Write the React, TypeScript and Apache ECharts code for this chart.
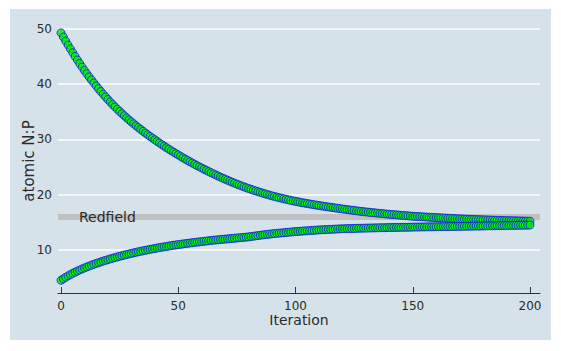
import React, { useEffect, useRef } from "react";
import * as echarts from "echarts";

// Iteration ticks / labels
const xTicks = [0, 50, 100, 150, 200];
const yTicks = [10, 20, 30, 40, 50];
const redfieldValue = 16;
const redfieldLabel = "Redfield";

// N:P starting high (iterations 0..200)
const npHigh = [
  49.3, 48.55, 47.82, 47.1, 46.4, 45.71, 45.04, 44.38, 43.74, 43.1,
  42.48, 41.9, 41.33, 40.78, 40.24, 39.71, 39.19, 38.68, 38.19, 37.71,
  37.24, 36.78, 36.34, 35.91, 35.49, 35.08, 34.68, 34.29, 33.91, 33.54,
  33.18, 32.83, 32.48, 32.14, 31.81, 31.48, 31.16, 30.85, 30.54, 30.24,
  29.95, 29.65, 29.36, 29.07, 28.79, 28.51, 28.24, 27.97, 27.71, 27.45,
  27.2, 26.94, 26.69, 26.44, 26.2, 25.96, 25.73, 25.5, 25.27, 25.05,
  24.83, 24.61, 24.4, 24.19, 23.98, 23.78, 23.58, 23.38, 23.18, 22.99,
  22.8, 22.62, 22.44, 22.26, 22.09, 21.92, 21.75, 21.59, 21.43, 21.27,
  21.12, 20.97, 20.83, 20.69, 20.55, 20.42, 20.29, 20.16, 20.03, 19.91,
  19.79, 19.68, 19.57, 19.46, 19.36, 19.26, 19.16, 19.06, 18.97, 18.88,
  18.79, 18.71, 18.63, 18.55, 18.47, 18.39, 18.32, 18.25, 18.18, 18.11,
  18.04, 17.97, 17.9, 17.84, 17.78, 17.72, 17.66, 17.6, 17.54, 17.48,
  17.42, 17.36, 17.3, 17.25, 17.19, 17.14, 17.08, 17.03, 16.98, 16.93,
  16.88, 16.84, 16.79, 16.75, 16.7, 16.66, 16.62, 16.57, 16.53, 16.49,
  16.45, 16.41, 16.38, 16.34, 16.31, 16.27, 16.24, 16.2, 16.17, 16.13,
  16.1, 16.07, 16.05, 16.02, 16.0, 15.97, 15.95, 15.92, 15.9, 15.87,
  15.85, 15.83, 15.81, 15.78, 15.76, 15.74, 15.72, 15.7, 15.67, 15.65,
  15.63, 15.61, 15.59, 15.57, 15.55, 15.54, 15.52, 15.5, 15.48, 15.47,
  15.45, 15.44, 15.42, 15.41, 15.39, 15.38, 15.36, 15.35, 15.34, 15.32,
  15.31, 15.3, 15.29, 15.28, 15.26, 15.25, 15.24, 15.23, 15.22, 15.21,
  15.2,
];

// N:P starting low (iterations 0..200)
const npLow = [
  4.5, 4.78, 5.05, 5.3, 5.54, 5.76, 5.97, 6.17, 6.37, 6.56,
  6.74, 6.91, 7.08, 7.24, 7.4, 7.55, 7.7, 7.84, 7.98, 8.11,
  8.24, 8.37, 8.49, 8.61, 8.73, 8.84, 8.95, 9.06, 9.17, 9.27,
  9.37, 9.47, 9.57, 9.66, 9.75, 9.84, 9.93, 10.02, 10.1, 10.18,
  10.26, 10.34, 10.42, 10.49, 10.56, 10.63, 10.7, 10.77, 10.84, 10.9,
  10.96, 11.02, 11.08, 11.14, 11.2, 11.25, 11.31, 11.36, 11.41, 11.46,
  11.51, 11.56, 11.61, 11.66, 11.71, 11.76, 11.8, 11.84, 11.88, 11.92,
  11.96, 12.0, 12.04, 12.08, 12.12, 12.16, 12.2, 12.24, 12.28, 12.32,
  12.36, 12.42, 12.48, 12.54, 12.6, 12.66, 12.71, 12.76, 12.81, 12.86,
  12.91, 12.96, 13.0, 13.04, 13.08, 13.12, 13.16, 13.2, 13.24, 13.28,
  13.32, 13.35, 13.38, 13.41, 13.44, 13.47, 13.5, 13.53, 13.56, 13.59,
  13.62, 13.64, 13.66, 13.68, 13.7, 13.73, 13.75, 13.77, 13.79, 13.81,
  13.83, 13.84, 13.86, 13.87, 13.88, 13.89, 13.9, 13.92, 13.93, 13.94,
  13.95, 13.96, 13.97, 13.98, 13.99, 14.0, 14.01, 14.02, 14.03, 14.04,
  14.05, 14.06, 14.07, 14.07, 14.08, 14.09, 14.1, 14.1, 14.11, 14.12,
  14.13, 14.14, 14.14, 14.15, 14.16, 14.16, 14.17, 14.18, 14.18, 14.19,
  14.2, 14.21, 14.21, 14.22, 14.23, 14.23, 14.24, 14.25, 14.25, 14.26,
  14.27, 14.28, 14.28, 14.29, 14.3, 14.3, 14.31, 14.32, 14.32, 14.33,
  14.34, 14.35, 14.36, 14.36, 14.37, 14.38, 14.39, 14.4, 14.4, 14.41,
  14.42, 14.43, 14.44, 14.44, 14.45, 14.46, 14.47, 14.48, 14.48, 14.49,
  14.5,
];

const FONT = "DejaVu Sans";
const TEXT = "#2b2b2b";

export default function App() {
  const ref = useRef<HTMLDivElement>(null);
  useEffect(() => {
    if (!ref.current) return;
    const chart = echarts.init(ref.current, undefined, { renderer: "svg" });
    const pointStyle = {
      color: "#00ee00",
      borderColor: "#1414f0",
      borderWidth: 1,
    };
    chart.setOption({
      animation: false,
      backgroundColor: "transparent",
      grid: {
        left: 48,
        right: 11,
        top: 20,
        bottom: 47,
        containLabel: false,
        outerBoundsMode: "none",
      },
      xAxis: {
        type: "value",
        min: -1.28,
        max: 204.26,
        splitLine: { show: false },
        axisLine: { show: true, lineStyle: { color: "#333333", width: 1 } },
        axisTick: {
          show: true,
          inside: true,
          length: 6,
          customValues: xTicks,
          lineStyle: { color: "#333333" },
        },
        axisLabel: {
          customValues: xTicks,
          margin: 7,
          fontSize: 12,
          fontFamily: FONT,
          color: TEXT,
        },
        name: "Iteration",
        nameLocation: "middle",
        nameGap: 20,
        nameMoveOverlap: false,
        nameTextStyle: { fontSize: 14, fontFamily: FONT, color: TEXT },
      },
      yAxis: {
        type: "value",
        min: 2.2,
        max: 50,
        axisLine: { show: false },
        axisTick: { show: false, customValues: yTicks },
        axisLabel: {
          customValues: yTicks,
          margin: 6,
          fontSize: 12,
          fontFamily: FONT,
          color: TEXT,
        },
        splitLine: { show: true, lineStyle: { color: "#ffffff", width: 1.5 } },
        name: "atomic N:P",
        nameLocation: "middle",
        nameGap: 22,
        nameMoveOverlap: false,
        nameTextStyle: { fontSize: 15, fontFamily: FONT, color: TEXT },
      },
      series: [
        {
          type: "line",
          data: [],
          z: 1,
          silent: true,
          markLine: {
            silent: true,
            z: 1,
            symbol: ["none", "none"],
            lineStyle: { color: "#c0c0c0", width: 6, type: "solid" },
            label: {
              show: true,
              formatter: redfieldLabel,
              position: "insideStartTop",
              distance: [21, 0],
              align: "left",
              verticalAlign: "middle",
              fontSize: 14,
              fontFamily: FONT,
              color: TEXT,
            },
            data: [{ yAxis: redfieldValue }],
          },
        },
        {
          type: "scatter",
          z: 3,
          symbol: "circle",
          symbolSize: 8,
          itemStyle: pointStyle,
          data: npHigh.map((v, i) => [i, v]),
        },
        {
          type: "scatter",
          z: 3,
          symbol: "circle",
          symbolSize: 8,
          itemStyle: pointStyle,
          data: npLow.map((v, i) => [i, v]),
        },
      ],
    });
    return () => chart.dispose();
  }, []);
  return (
    <div
      ref={ref}
      style={{
        position: "absolute",
        left: 10,
        top: 9,
        width: 541,
        height: 331,
        background: "#d5e2e9",
      }}
    />
  );
}
